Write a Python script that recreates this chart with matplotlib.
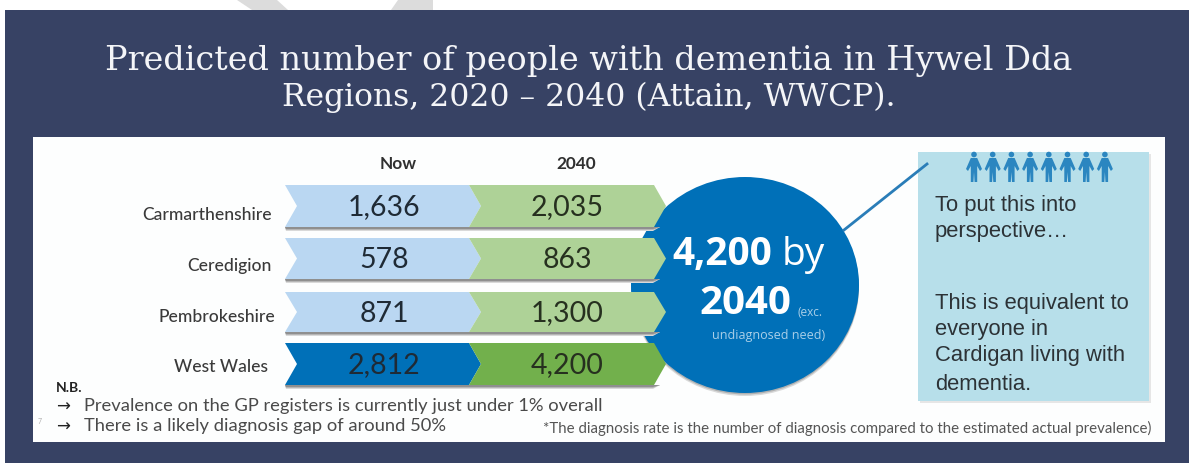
# -*- coding: utf-8 -*-
import matplotlib
matplotlib.use('Agg')
import matplotlib.pyplot as plt
from matplotlib.patches import Polygon, Rectangle, Ellipse, Circle

# Valores do quadro
regioes = ['Carmarthenshire', 'Ceredigion', 'Pembrokeshire', 'West Wales']
agora = ['1,636', '578', '871', '2,812']
em_2040 = ['2,035', '863', '1,300', '4,200']
colunas = ['Now', '2040']
titulo = ['Predicted number of people with dementia in Hywel Dda',
          'Regions, 2020 – 2040 (Attain, WWCP).']
notas = ['Prevalence on the GP registers is currently just under 1% overall',
         'There is a likely diagnosis gap of around 50%']
rodape = '*The diagnosis rate is the number of diagnosis compared to the estimated actual prevalence)'
caixa = ['To put this into', 'perspective…', 'This is equivalent to',
         'everyone in', 'Cardigan living with', 'dementia.']

# Cores
fundo = '#374264'
azul_claro = '#bad7f2'
verde_claro = '#aed297'
azul = '#0070b8'
verde = '#72b04c'
caixa_cor = '#b7dfea'
texto = '#3a3a3a'

# Posições em pixels
topos = [185, 238, 292, 343]
alturas = [42, 41, 40, 42]
rotulo_y = [215, 266, 317, 367]
rotulo_x = [272, 272, 275, 268]
caixa_y = [205, 231, 303, 330, 356, 384]

fig = plt.figure(figsize=(11.89, 4.63), dpi=100)
ax = fig.add_axes([0, 0, 1, 1])
ax.set_xlim(0, 1189)
ax.set_ylim(463, 0)
ax.axis('off')

# Formas cinza no topo, painel escuro e painel branco
ax.add_patch(Polygon([(237, 0), (277, 0), (288, 10), (252, 10)], color='#dcdcdc', lw=0))
ax.add_patch(Polygon([(398, 0), (433, 0), (433, 10), (391, 10)], color='#dcdcdc', lw=0))
ax.add_patch(Rectangle((5, 10), 1184, 453, color=fundo, lw=0))
ax.add_patch(Rectangle((33, 137), 1132, 305, color='#fdfefe', lw=0))

# Título
for y, linha, tam in zip([61, 97], titulo, [24.1, 22.6]):
    ax.text(589, y, linha, color='#f4f5f8', fontsize=tam, family='DejaVu Serif',
            ha='center', va='center', fontweight='light')

# Círculo azul com sombra
ax.add_patch(Ellipse((745, 288), 228, 216, color='#b5b5b5', lw=0, alpha=0.5))
ax.add_patch(Ellipse((745, 286.5), 228, 216, color='#8a8a8a', lw=0, alpha=0.5))
ax.add_patch(Ellipse((745, 285), 228, 216, color=azul, lw=0))

# Linhas de setas
for i, regiao in enumerate(regioes):
    t = topos[i]
    b = t + alturas[i]
    m = (t + b) / 2
    c1 = azul_claro if i < 3 else azul
    c2 = verde_claro if i < 3 else verde
    for d, tom in zip([4, 3, 2], ['#d9d9d9', '#b5b5b5', '#8f8f8f']):
        ax.add_patch(Polygon([(286, b + d), (653, b + d), (660, b), (285, b)],
                             color=tom, lw=0, zorder=2))
    ax.add_patch(Polygon([(285, t), (469, t), (481, m), (469, b), (285, b), (297, m)],
                         color=c1, lw=0, zorder=3))
    ax.add_patch(Polygon([(469, t), (654, t), (666, m), (654, b), (469, b), (481, m)],
                         color=c2, lw=0, zorder=4))
    ax.text(rotulo_x[i], rotulo_y[i], regiao, fontsize=12.6, family='Lato', color=texto,
            ha='right', va='center', fontweight='medium', zorder=5)
    ax.text(384, m + 1.5, agora[i], fontsize=20.5, family='Lato', color='#1f2a35',
            ha='center', va='center', zorder=5)
    ax.text(567, m + 1.5, em_2040[i], fontsize=20.5, family='Lato', color='#26301f',
            ha='center', va='center', zorder=5)

for x, c in zip([398, 576], colunas):
    ax.text(x, 164, c, fontsize=12.4, family='Lato', fontweight='bold', color='#303030',
            ha='center', va='center')

# Texto do círculo
ax.text(672, 255, '4,200', fontsize=28, family='Open Sans', fontweight='bold',
        color='white', ha='left', va='center', zorder=6)
ax.text(782, 255, 'by', fontsize=28, family='Open Sans', color='white',
        ha='left', va='center', zorder=6)
ax.text(699, 304, '2040', fontsize=29, family='Open Sans', fontweight='bold',
        color='white', ha='left', va='center', zorder=6)
ax.text(797, 313, '(exc.', fontsize=8.5, family='Open Sans', color='#a9cfe8',
        ha='left', va='center', zorder=6)
ax.text(825, 335, 'undiagnosed need)', fontsize=9, family='Open Sans', color='#a9cfe8',
        ha='right', va='center', zorder=6)

# Caixa da direita
ax.add_patch(Rectangle((920, 154), 231, 249, color='#e6e6e6', lw=0))
ax.add_patch(Rectangle((918, 152), 231, 249, color=caixa_cor, lw=0))
ax.plot([844, 927], [230, 164], color='#2a7db8', lw=2, zorder=3)

# Bonecos
for k in range(8):
    cx = 974 + k * 18.7
    ax.add_patch(Circle((cx, 154.5), 2.8, color='#2b86c0', lw=0))
    ax.add_patch(Polygon([(cx - 3.2, 158), (cx + 3.2, 158), (cx + 8, 169), (cx + 6, 171),
                          (cx + 3.2, 166), (cx + 3.2, 182), (cx + 0.6, 182), (cx, 172),
                          (cx - 0.6, 182), (cx - 3.2, 182), (cx - 3.2, 166), (cx - 6, 171),
                          (cx - 8, 169)], color='#2b86c0', lw=0))

for y, linha in zip(caixa_y, caixa):
    ax.text(935, y, linha, fontsize=15.8, family='Liberation Sans', color='#2c3236',
            ha='left', va='center')

# Notas
ax.text(56, 388, 'N.B.', fontsize=10, family='Lato', fontweight='bold', color='#222222',
        ha='left', va='center')
for y, nota in zip([406.5, 426.5], notas):
    ax.text(56, y, '→', fontsize=12, family='DejaVu Sans', color='#222222', ha='left', va='center')
    ax.text(84, y, nota, fontsize=13.2, family='Lato', color='#4a4a4a', ha='left', va='center')
ax.text(40, 421, '7', fontsize=5, family='Lato', color='#b0b0b0', ha='center', va='center')
ax.text(543, 428, rodape, fontsize=10.8, family='Lato', color='#555555', ha='left', va='center')

fig.savefig('out.png', dpi=100)
